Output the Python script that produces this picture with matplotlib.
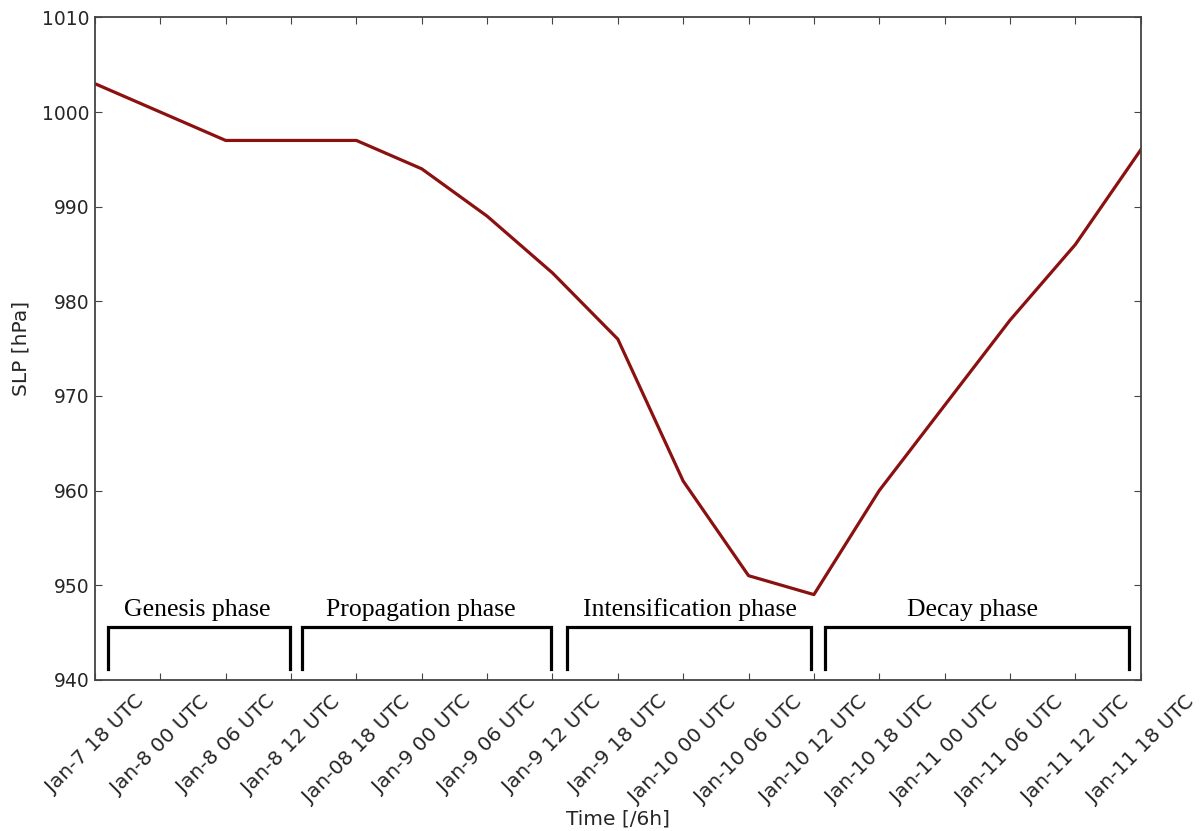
""" SLP evolution of the cyclone, with phase brackets """

import numpy as np
import matplotlib.pyplot as plt

# time axis labels (6-hourly)
timeLabels = ['Jan-7 18 UTC', 'Jan-8 00 UTC', 'Jan-8 06 UTC', 'Jan-8 12 UTC',
              'Jan-08 18 UTC', 'Jan-9 00 UTC', 'Jan-9 06 UTC', 'Jan-9 12 UTC',
              'Jan-9 18 UTC', 'Jan-10 00 UTC', 'Jan-10 06 UTC', 'Jan-10 12 UTC',
              'Jan-10 18 UTC', 'Jan-11 00 UTC', 'Jan-11 06 UTC', 'Jan-11 12 UTC',
              'Jan-11 18 UTC']
# sea level pressure [hPa]
slp = [1003, 1000, 997, 997, 997, 994, 989, 983, 976, 961, 951, 949,
       960, 969, 978, 986, 996]

# phases: name, start, end, label position (in time steps)
phaseNames = ['Genesis phase', 'Propagation phase',
              'Intensification phase', 'Decay phase']
phaseStart = [0.2, 3.17, 7.22, 11.17]
phaseEnd = [2.98, 6.98, 10.96, 15.82]
phaseTextX = [1.56, 4.98, 9.1, 13.42]

plt.rcParams['font.family'] = 'DejaVu Sans'

t = np.arange(len(slp))

fig = plt.figure(figsize=(12.02, 8.31), dpi=100)
ax = fig.add_axes([0.079, 0.182, 0.870, 0.797])
ax.plot(t, slp, color='#8b1111', lw=2.3)

# phase brackets
yTop, yBot, yTxt = 945.6, 941.1, 947.4
for name, x0, x1, xt in zip(phaseNames, phaseStart, phaseEnd, phaseTextX):
    ax.plot([x0, x0, x1, x1], [yBot, yTop, yTop, yBot], color='k', lw=2.3,
            solid_joinstyle='miter')
    ax.text(xt, yTxt, name, ha='center', va='center',
            fontsize=18.5, family='Liberation Serif')

ax.set_xlim(0, len(slp) - 1)
ax.set_ylim(940, 1010)
ax.set_xticks(t)
ax.set_xticklabels(timeLabels, rotation=45, fontsize=14.5, color='#262626')
ax.set_yticks(np.arange(940, 1011, 10))
ax.tick_params(axis='y', labelsize=13.5, labelcolor='#262626', pad=4)
ax.tick_params(axis='x', pad=9)
ax.tick_params(direction='in', top=True, right=True, length=5,
               color='#444444')
for s in ax.spines.values():
    s.set_color('#444444')
    s.set_linewidth(1.3)
ax.set_xlabel('Time [/6h]', fontsize=14.5, color='#262626', labelpad=2)
ax.set_ylabel('SLP [hPa]', fontsize=14.5, color='#262626', labelpad=8)

fig.savefig('out.png', dpi=100)
